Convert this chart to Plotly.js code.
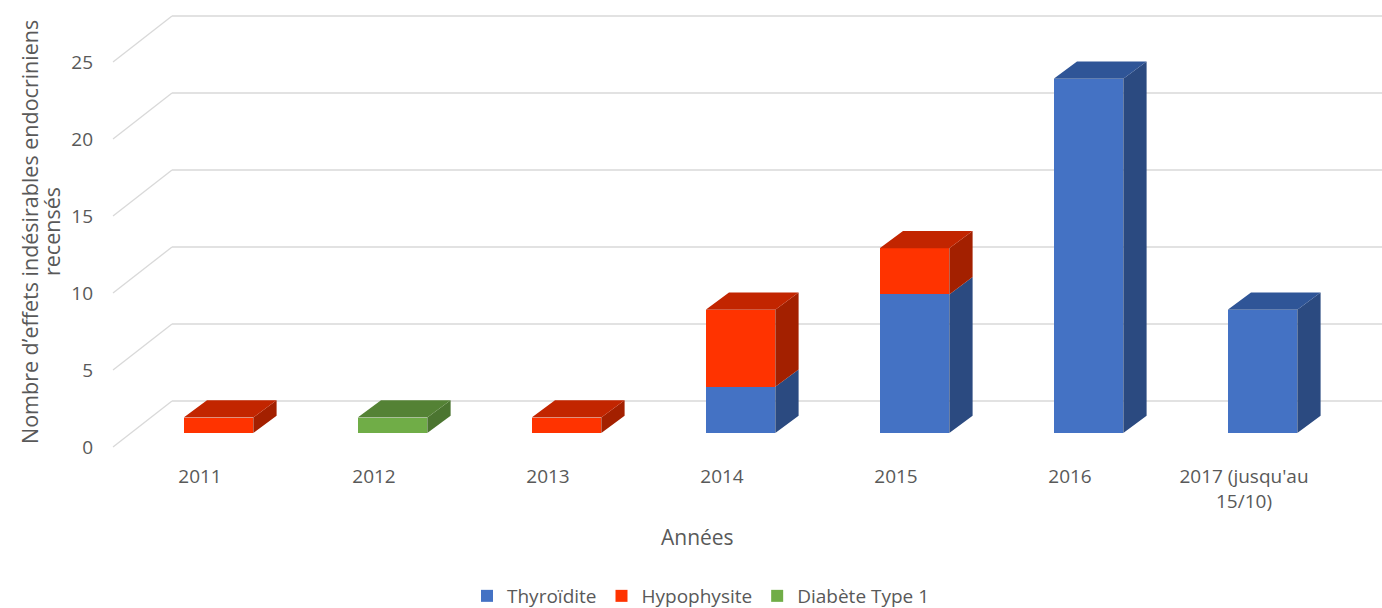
<!DOCTYPE html>
<html>
<head>
<meta charset="utf-8">
<script src="https://cdn.plot.ly/plotly-3.0.1.min.js"></script>
<style>html,body{margin:0;padding:0;background:#fff;}#chart{width:1382px;height:608px;}</style>
</head>
<body>
<div id="chart"></div>
<script>
// ---- data ----
const categories = ['2011', '2012', '2013', '2014', '2015', '2016', "2017 (jusqu'au<br>15/10)"];
const thyroidite = [0, 0, 0, 3, 9, 23, 8];
const hypophysite = [1, 0, 1, 5, 3, 0, 0];
const diabete = [0, 1, 0, 0, 0, 0, 0];
const seriesNames = ['Thyroïdite', 'Hypophysite', 'Diabète Type 1'];
const yTicks = [0, 5, 10, 15, 20, 25];
const yTitleLines = ['Nombre d’effets indésirables endocriniens', 'recensés'];
const xTitle = 'Années';

// ---- styling / geometry ----
const frontColors = ['#4472C4', '#FF3300', '#70AD47'];
const topColors = ['#2F5597', '#C22500', '#548235'];
const sideColors = ['#2B4A80', '#A32000', '#4B7530'];
const W = 1382, H = 608;
const M = {l: 100, r: 0, t: 10, b: 148};
const PX_CAT = 174, PX_UNIT = 15.4, X0PX = 218.5, Y0PX = 433;
const xd = px => (px - X0PX) / PX_CAT;
const yd = py => (Y0PX - py) / PX_UNIT;
const xRange = [xd(M.l), xd(W - M.r)];
const yRange = [yd(H - M.b), yd(M.t)];
const barW = 0.4;
const depthX = 23.3 / PX_CAT, depthY = 17.3 / PX_UNIT;
const floorFrontX = xd(113), wallX = xd(172);
const floorFrontDY = yd(447), wallDY = yd(401);
const labelShiftX = -18.5 / PX_CAT;
const PW = W - M.l - M.r, PH = H - M.t - M.b;

const idx = categories.map((c, i) => i);
const seriesVals = [thyroidite, hypophysite, diabete];

const traces = [];
seriesVals.forEach((vals, s) => {
  traces.push({
    type: 'bar', x: idx, y: vals, name: seriesNames[s], width: barW,
    marker: {color: frontColors[s], line: {width: 0}}, hoverinfo: 'skip'
  });
});

// 3D faces computed from the data
const sideX = [[], [], []], sideY = [[], [], []], topX = [[], [], []], topY = [[], [], []];
idx.forEach(i => {
  let base = 0;
  let lastS = -1, lastTop = 0;
  seriesVals.forEach((vals, s) => {
    const v = vals[i];
    if (v > 0) {
      const top = base + v;
      const x1 = i + barW / 2;
      sideX[s].push(x1, x1 + depthX, x1 + depthX, x1, null);
      sideY[s].push(base, base + depthY, top + depthY, top, null);
      lastS = s; lastTop = top;
      base = top;
    }
  });
  if (lastS >= 0) {
    const x0 = i - barW / 2, x1 = i + barW / 2;
    topX[lastS].push(x0, x1, x1 + depthX, x0 + depthX, null);
    topY[lastS].push(lastTop, lastTop, lastTop + depthY, lastTop + depthY, null);
  }
});
[0, 1, 2].forEach(s => {
  traces.push({type: 'scatter', mode: 'lines', x: sideX[s], y: sideY[s], fill: 'toself',
    fillcolor: sideColors[s], line: {width: 0, color: sideColors[s]}, showlegend: false, hoverinfo: 'skip'});
  traces.push({type: 'scatter', mode: 'lines', x: topX[s], y: topY[s], fill: 'toself',
    fillcolor: topColors[s], line: {width: 0, color: topColors[s]}, showlegend: false, hoverinfo: 'skip'});
});

// gridlines on back wall + floor diagonals
const shapes = [];
yTicks.forEach(v => {
  shapes.push({type: 'line', xref: 'x', yref: 'y', layer: 'below',
    x0: floorFrontX, y0: v + floorFrontDY, x1: wallX, y1: v + wallDY,
    line: {color: '#D9D9D9', width: 1.3}});
  shapes.push({type: 'line', xref: 'x', yref: 'y', layer: 'below',
    x0: wallX, y0: v + wallDY, x1: xRange[1], y1: v + wallDY,
    line: {color: '#D9D9D9', width: 1.3}});
});

const font = 'Open Sans, Noto Sans, sans-serif';
const layout = {
  width: W, height: H, margin: M,
  paper_bgcolor: '#fff', plot_bgcolor: '#fff',
  barmode: 'stack', showlegend: true,
  font: {family: font, color: '#595959', size: 19},
  xaxis: {range: xRange, showgrid: false, zeroline: false, showline: false, ticks: '',
    tickmode: 'array', tickvals: idx.map(i => i + labelShiftX), ticktext: categories,
    ticklabelstandoff: 3, automargin: false,
    tickfont: {size: 19, color: '#595959'}, fixedrange: true},
  yaxis: {range: yRange, showgrid: false, zeroline: false, showline: false, ticks: '',
    tickmode: 'array', tickvals: yTicks.map(v => v + floorFrontDY), ticktext: yTicks.map(String),
    ticklabelstandoff: 6, automargin: false,
    tickfont: {size: 19, color: '#595959'}, fixedrange: true},
  legend: {orientation: 'h', xref: 'container', yref: 'container',
    x: 701 / W, xanchor: 'center', y: (H - 596) / H, yanchor: 'middle', traceorder: 'normal',
    font: {size: 19, color: '#595959'}},
  shapes: shapes,
  annotations: [
    {text: xTitle, xref: 'paper', yref: 'paper', showarrow: false,
      x: (697 - M.l) / PW, y: (H - M.b - 537) / PH,
      xanchor: 'center', yanchor: 'middle', font: {size: 21, color: '#595959'}},
    {text: yTitleLines[0], xref: 'paper', yref: 'paper', showarrow: false, textangle: -90,
      x: (30 - M.l) / PW, y: (H - M.b - 232) / PH,
      xanchor: 'center', yanchor: 'middle', font: {size: 21.5, color: '#595959'}},
    {text: yTitleLines[1], xref: 'paper', yref: 'paper', showarrow: false, textangle: -90,
      x: (52 - M.l) / PW, y: (H - M.b - 232) / PH,
      xanchor: 'center', yanchor: 'middle', font: {size: 21.5, color: '#595959'}}
  ]
};
Plotly.newPlot('chart', traces, layout, {displayModeBar: false, staticPlot: true});
</script>
</body>
</html>
